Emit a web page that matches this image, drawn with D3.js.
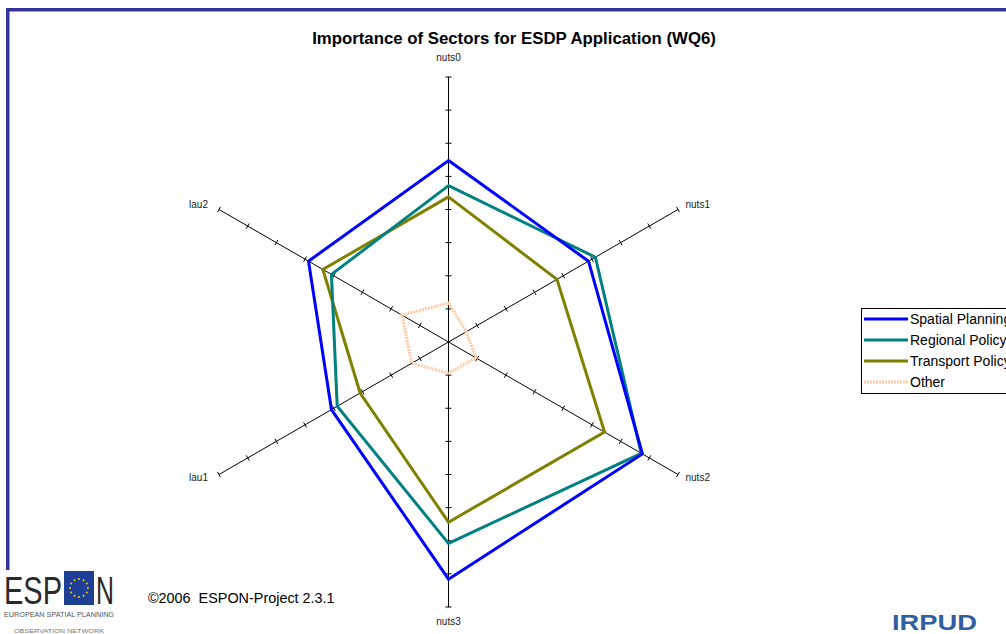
<!DOCTYPE html>
<html>
<head>
<meta charset="utf-8">
<script src="https://cdn.jsdelivr.net/npm/d3@7"></script>
<style>
  html, body { margin: 0; padding: 0; background: #fff; }
  svg { display: block; font-family: "Liberation Sans", Arial, sans-serif; }
</style>
</head>
<body>
<svg id="chart" width="1006" height="634"></svg>
<script>
// Survey axes (territorial levels) and mean importance per sector
const axes = ["nuts0", "nuts1", "nuts2", "nuts3", "lau1", "lau2"];
const seriesNames = ["Spatial Planning", "Regional Policy", "Transport Policy", "Other"];
const spatialPlanning = [2.74, 2.44, 3.38, 3.58, 2.04, 2.44];
const regionalPolicy  = [2.36, 2.56, 3.36, 3.04, 1.94, 2.04];
const transportPolicy = [2.19, 1.89, 2.72, 2.72, 1.54, 2.19];
const other           = [0.59, 0.31, 0.48, 0.47, 0.64, 0.81];
const radialTicks = [0.5, 1, 1.5, 2, 2.5, 3, 3.5, 4];
const titleText = "Importance of Sectors for ESDP Application (WQ6)";
const copyrightText = "\u00A92006  ESPON-Project 2.3.1";

const series = [
  { name: seriesNames[0], values: spatialPlanning, color: "#0000ff", dash: null },
  { name: seriesNames[1], values: regionalPolicy,  color: "#008080", dash: null },
  { name: seriesNames[2], values: transportPolicy, color: "#808000", dash: null },
  { name: seriesNames[3], values: other,           color: "#ffcaa6", dash: "2,1" }
];

const svg = d3.select("#chart");
const W = 1006, H = 634;
const cx = 448.5, cy = 342;

// Frame lines along the top and left edges
svg.append("rect").attr("x", 6).attr("y", 8).attr("width", W - 6).attr("height", 3.5).attr("fill", "#333399");
svg.append("rect").attr("x", 6).attr("y", 8).attr("width", 3.5).attr("height", 562).attr("fill", "#333399");

// Title
svg.append("text")
  .attr("x", 514).attr("y", 44)
  .attr("text-anchor", "middle")
  .attr("font-size", 16.8).attr("font-weight", "bold").attr("fill", "#000")
  .text(titleText);

const r = d3.scaleLinear().domain([0, 4]).range([0, 265]);
const angle = d3.scalePoint().domain(axes.concat(["_end"])).range([0, 2 * Math.PI]);

const g = svg.append("g").attr("transform", `translate(${cx},${cy})`);

// Axis spokes with tick marks
axes.forEach(a => {
  const th = angle(a);
  const ux = Math.sin(th), uy = -Math.cos(th);
  g.append("line")
    .attr("x1", 0).attr("y1", 0)
    .attr("x2", ux * r(4)).attr("y2", uy * r(4))
    .attr("stroke", "#000").attr("stroke-width", 1);
  radialTicks.forEach(t => {
    const px = ux * r(t), py = uy * r(t);
    const nx = -uy * 3, ny = ux * 3;
    g.append("line")
      .attr("x1", px - nx).attr("y1", py - ny)
      .attr("x2", px + nx).attr("y2", py + ny)
      .attr("stroke", "#000").attr("stroke-width", 1);
  });
});

// Axis labels
const labelPos = {
  nuts0: { dx: 0, dy: -281, anchor: "middle" },
  nuts1: { dx: 237, dy: -134, anchor: "start" },
  nuts2: { dx: 237, dy: 139, anchor: "start" },
  nuts3: { dx: 0, dy: 283, anchor: "middle" },
  lau1:  { dx: -250, dy: 139, anchor: "middle" },
  lau2:  { dx: -250, dy: -134, anchor: "middle" }
};
axes.forEach(a => {
  const p = labelPos[a];
  g.append("text")
    .attr("x", p.dx).attr("y", p.dy)
    .attr("text-anchor", p.anchor)
    .attr("font-size", 10).attr("fill", "#222")
    .text(a);
});

// Series polygons, drawn back to front
const radial = d3.lineRadial()
  .angle((d, i) => angle(axes[i]))
  .radius(d => r(d))
  .curve(d3.curveLinearClosed);

series.slice().reverse().forEach(s => {
  const p = g.append("path")
    .attr("d", radial(s.values))
    .attr("fill", "none")
    .attr("stroke", s.color)
    .attr("stroke-width", 3)
    .attr("stroke-linejoin", "miter");
  if (s.dash) p.attr("stroke-dasharray", s.dash);
});

// Legend (the box runs past the right edge of the page)
const lg = svg.append("g");
lg.append("rect")
  .attr("x", 861.5).attr("y", 308.5).attr("width", 160).attr("height", 85)
  .attr("fill", "#fff").attr("stroke", "#000").attr("stroke-width", 1);
series.forEach((s, i) => {
  const y = 319 + i * 21;
  const ln = lg.append("line")
    .attr("x1", 864).attr("x2", 908).attr("y1", y).attr("y2", y)
    .attr("stroke", s.color).attr("stroke-width", 3);
  if (s.dash) ln.attr("stroke-dasharray", s.dash);
  lg.append("text")
    .attr("x", 910).attr("y", y + 5)
    .attr("font-size", 14).attr("fill", "#000")
    .text(s.name);
});

// ESPON logo block
const logo = svg.append("g");
logo.append("text")
  .attr("x", 4).attr("y", 604)
  .attr("font-size", 38).attr("fill", "#2a2a2a").attr("textLength", 58)
  .attr("lengthAdjust", "spacingAndGlyphs")
  .text("ESP");
logo.append("rect").attr("x", 64).attr("y", 571).attr("width", 30).attr("height", 34).attr("fill", "#1f3f96");
d3.range(12).forEach(k => {
  const a = k / 12 * 2 * Math.PI;
  logo.append("circle")
    .attr("cx", 79 + Math.cos(a) * 9).attr("cy", 588 + Math.sin(a) * 9)
    .attr("r", 1).attr("fill", "#f0d000");
});
logo.append("text")
  .attr("x", 96).attr("y", 604)
  .attr("font-size", 38).attr("fill", "#2a2a2a").attr("textLength", 18)
  .attr("lengthAdjust", "spacingAndGlyphs")
  .text("N");
logo.append("text")
  .attr("x", 4).attr("y", 617)
  .attr("font-size", 7).attr("fill", "#555").attr("textLength", 110)
  .attr("lengthAdjust", "spacingAndGlyphs")
  .text("EUROPEAN SPATIAL PLANNING");
logo.append("text")
  .attr("x", 14).attr("y", 633)
  .attr("font-size", 6).attr("fill", "#777").attr("textLength", 90)
  .attr("lengthAdjust", "spacingAndGlyphs")
  .text("OBSERVATION NETWORK");

svg.append("text")
  .attr("x", 148).attr("y", 603)
  .attr("font-size", 14.4).attr("fill", "#000")
  .style("white-space", "pre")
  .text(copyrightText);

// IRPUD mark
svg.append("text")
  .attr("x", 892).attr("y", 630)
  .attr("font-size", 22).attr("font-weight", "bold").attr("fill", "#2f5f9f")
  .attr("textLength", 85).attr("lengthAdjust", "spacingAndGlyphs")
  .text("IRPUD");
</script>
</body>
</html>
